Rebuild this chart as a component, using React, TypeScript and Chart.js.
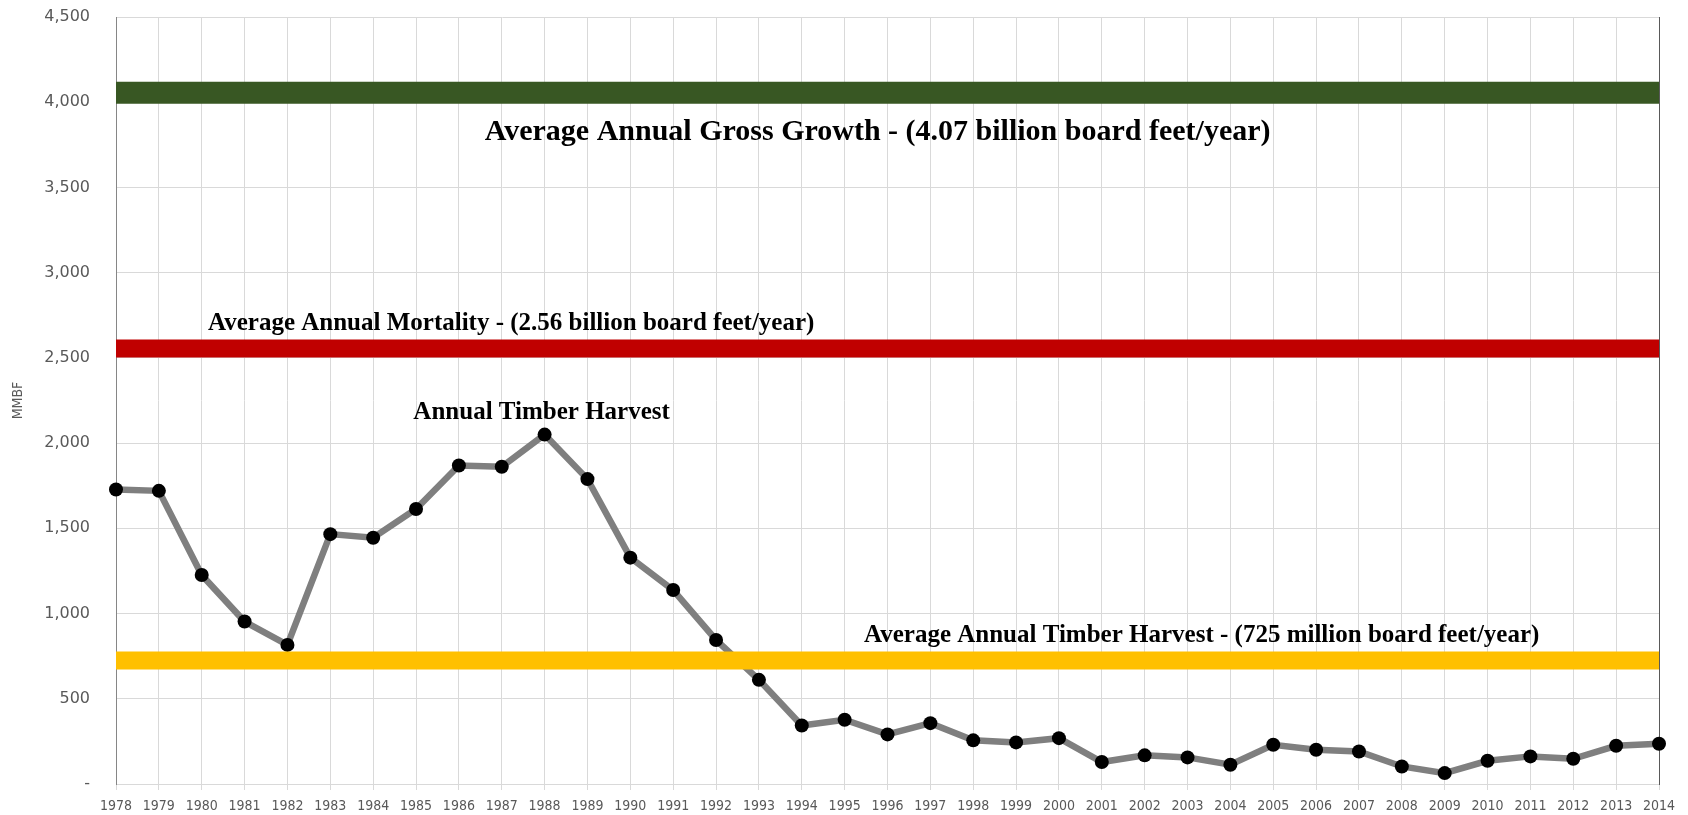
import React, { useEffect, useRef } from "react";
import { Chart, registerables } from "chart.js";

Chart.register(...registerables);

const years: string[] = [
  "1978", "1979", "1980", "1981", "1982", "1983", "1984", "1985", "1986", "1987",
  "1988", "1989", "1990", "1991", "1992", "1993", "1994", "1995", "1996", "1997",
  "1998", "1999", "2000", "2001", "2002", "2003", "2004", "2005", "2006", "2007",
  "2008", "2009", "2010", "2011", "2012", "2013", "2014",
];

const annualHarvest: number[] = [
  1728, 1720, 1226, 953, 816, 1466, 1445, 1613, 1869, 1861,
  2050, 1789, 1328, 1138, 845, 611, 343, 377, 291, 357,
  256, 244, 269, 129, 168, 156, 113, 230, 201, 191,
  103, 64, 136, 162, 148, 224, 236,
];

const avgGrossGrowth = 4055;
const avgMortality = 2555;
const avgHarvest = 725;

const yTickValues: number[] = [0, 500, 1000, 1500, 2000, 2500, 3000, 3500, 4000, 4500];

const labelTexts: string[] = [
  "Average Annual Gross Growth - (4.07 billion board feet/year)",
  "Average Annual Mortality - (2.56 billion board feet/year)",
  "Annual Timber Harvest",
  "Average Annual Timber Harvest - (725 million board feet/year)",
];

// annotation placement (category index, value) and font sizes
const labelPlacement = [
  { x: 17.77, y: 3780, size: 30 },
  { x: 9.22, y: 2665, size: 25 },
  { x: 9.93, y: 2144, size: 25 },
  { x: 25.33, y: 832, size: 25 },
];

const constantSeries = (v: number) => years.map(() => v);

const textPlugin = {
  id: "textLabels",
  afterDatasetsDraw(chart: any) {
    const { ctx, scales } = chart;
    const xs = scales.x;
    const ys = scales.y;
    ctx.save();
    ctx.fillStyle = "#000000";
    ctx.textAlign = "center";
    ctx.textBaseline = "alphabetic";
    labelTexts.forEach((t, i) => {
      const p = labelPlacement[i];
      ctx.font = `bold ${p.size}px "Liberation Serif", "DejaVu Serif", serif`;
      ctx.fillText(t, xs.getPixelForValue(p.x), ys.getPixelForValue(p.y));
    });
    ctx.restore();
  },
};

export default function App() {
  const canvasRef = useRef<HTMLCanvasElement | null>(null);

  useEffect(() => {
    if (!canvasRef.current) return;
    const chart = new Chart(canvasRef.current, {
      type: "line",
      data: {
        labels: years,
        datasets: [
          {
            label: "Average Annual Gross Growth",
            data: constantSeries(avgGrossGrowth),
            borderColor: "#385723",
            borderWidth: 22,
            borderCapStyle: "butt",
            pointRadius: 0,
            order: 0,
          },
          {
            label: "Average Annual Mortality",
            data: constantSeries(avgMortality),
            borderColor: "#c00000",
            borderWidth: 18,
            borderCapStyle: "butt",
            pointRadius: 0,
            order: 0,
          },
          {
            label: "Average Annual Timber Harvest",
            data: constantSeries(avgHarvest),
            borderColor: "#ffc000",
            borderWidth: 18,
            borderCapStyle: "butt",
            pointRadius: 0,
            order: 0,
          },
          {
            label: "Annual Timber Harvest",
            data: annualHarvest,
            borderColor: "#7f7f7f",
            borderWidth: 6.5,
            pointRadius: 7,
            pointBackgroundColor: "#000000",
            pointBorderColor: "#000000",
            pointBorderWidth: 0,
            tension: 0,
            clip: false,
            order: 1,
          },
        ],
      },
      options: {
        animation: false,
        responsive: true,
        maintainAspectRatio: false,
        layout: { padding: { top: 17, right: 29, left: 0, bottom: 0 } },
        plugins: {
          legend: { display: false },
          tooltip: { enabled: false },
        },
        scales: {
          x: {
            type: "category",
            offset: false,
            grid: { color: "#d9d9d9", lineWidth: 1, drawTicks: true, tickLength: 6 },
            border: { color: "#d9d9d9", width: 1 },
            ticks: {
              autoSkip: false,
              maxRotation: 0,
              minRotation: 0,
              padding: 8,
              color: "#595959",
              font: { family: '"DejaVu Sans Condensed", "DejaVu Sans", sans-serif', size: 14 },
            },
            afterFit: (scale: any) => {
              scale.height = 31;
              scale.paddingTop = 0;
              scale.paddingBottom = 0;
            },
          },
          y: {
            min: 0,
            max: 4500,
            afterBuildTicks: (scale: any) => {
              scale.ticks = yTickValues.map((v) => ({ value: v }));
            },
            grid: { color: "#d9d9d9", lineWidth: 1, drawTicks: false },
            border: { color: "#868686", width: 1 },
            ticks: {
              padding: 26,
              color: "#595959",
              font: { family: '"DejaVu Sans", sans-serif', size: 16 },
              callback: (v: any) => (Number(v) === 0 ? "-" : Number(v).toLocaleString("en-US")),
            },
            title: {
              display: true,
              text: "MMBF",
              color: "#595959",
              padding: { top: 10, bottom: 0 },
              font: { family: '"DejaVu Sans Condensed", "DejaVu Sans", sans-serif', size: 14 },
            },
            afterFit: (scale: any) => {
              scale.width = 116;
              scale.paddingTop = 0;
              scale.paddingBottom = 0;
            },
          },
          y2: {
            position: "right",
            min: 0,
            max: 4500,
            grid: { drawOnChartArea: false, drawTicks: false },
            border: { color: "#595959", width: 1 },
            ticks: { display: false },
            afterFit: (scale: any) => {
              scale.width = 0;
              scale.paddingTop = 0;
              scale.paddingBottom = 0;
            },
          },
        },
      },
      plugins: [textPlugin],
    } as any);
    return () => chart.destroy();
  }, []);

  return (
    <div style={{ position: "fixed", left: 0, top: 0, width: 1688, height: 815, background: "#ffffff" }}>
      <canvas ref={canvasRef} />
    </div>
  );
}
